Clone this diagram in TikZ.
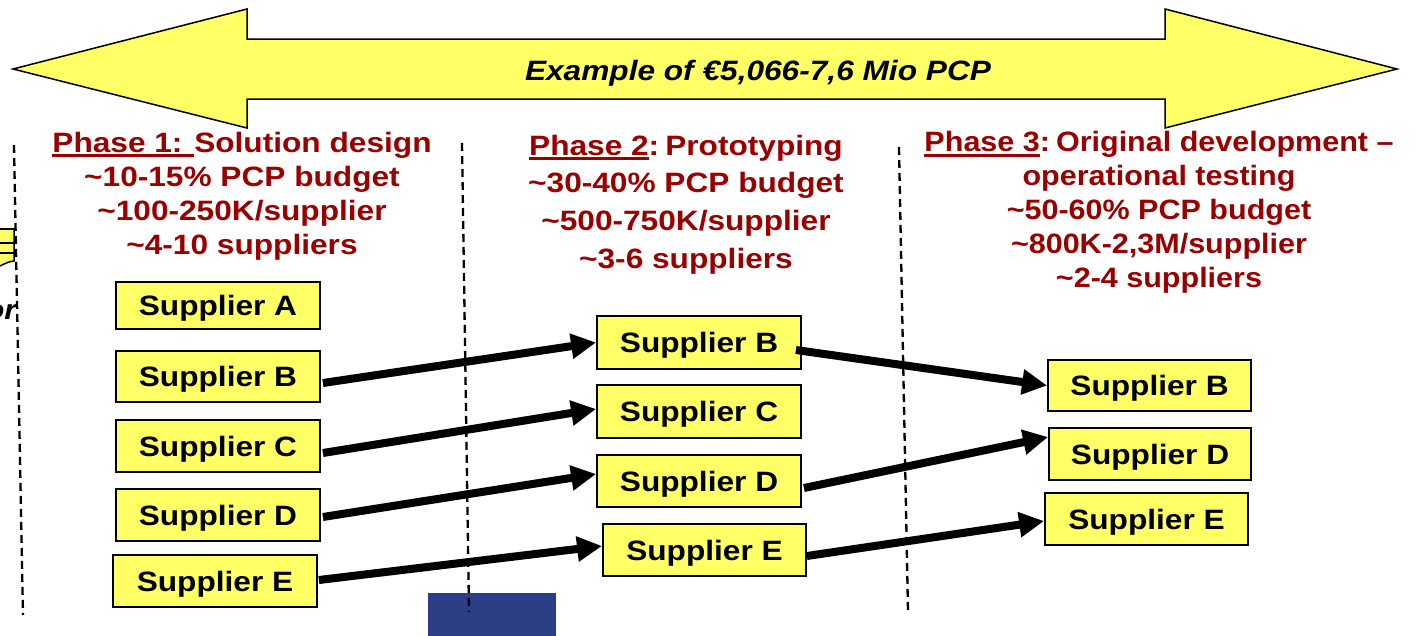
\documentclass[tikz,border=0pt]{standalone}
\usepackage{fontspec}
\usetikzlibrary{arrows.meta}
\newfontfamily\af[FakeStretch=1.13]{Liberation Sans}
\newfontfamily\afn[FakeStretch=1.09]{Liberation Sans}
\definecolor{ayellow}{HTML}{FFFF66}
\definecolor{dred}{HTML}{990000}
\definecolor{dblue}{HTML}{2C3F86}
\newcommand\myul[1]{\setbox0\hbox{#1}\rlap{\rule[-5pt]{\wd0}{3.2pt}}#1}
\tikzset{
  supbox/.style={draw=black, line width=1.8pt, fill=ayellow, minimum width=204pt,
    minimum height=52pt, inner sep=0pt, text depth=0pt, font=\af\fontsize{28}{32}\selectfont\bfseries},
  phasetxt/.style={align=center, inner sep=0pt, anchor=north, text=dred},
  flow/.style={line width=8pt, -{Triangle[length=25pt,width=24pt]}},
  divider/.style={line width=2.3pt, dash pattern=on 8pt off 5pt}
}
\begin{document}
\begin{tikzpicture}[x=1pt,y=-1pt]
\useasboundingbox (0,0) rectangle (1427,635);
% blue rectangle
\fill[dblue] (428,593) rectangle (556,640);
% left fragment
\path[fill=ayellow, draw=black, line width=1.5pt] (-2,229) -- (14,229) -- (14,261) .. controls (8,262) .. (-2,267) -- cycle;
\draw[line width=1.5pt] (-2,229) -- (16,229) (-2,243) -- (16,243) (-2,253) -- (16,253);
\node[anchor=base east, inner sep=0pt, font=\af\fontsize{28}{32}\selectfont\bfseries\itshape] (orx) at (17,319) {or};
% big double arrow
\path[fill=ayellow, draw=black, line width=1.5pt] (13,69) -- (247,9) -- (247,39) -- (1165,39) -- (1165,9) -- (1397,69) -- (1165,128) -- (1165,99) -- (247,99) -- (247,128) -- cycle;
\node[anchor=base, inner sep=0pt, font=\af\fontsize{28}{32}\selectfont\bfseries\itshape] (ex) at (758,80) {Example of €5,066-7,6 Mio PCP};
% dividers
\draw[divider] (14,145) -- (23,615);
\draw[divider] (462,143) -- (469,612);
\draw[divider] (899,147) -- (908,612);
% phase headings
\node[phasetxt, font=\af\fontsize{28}{34}\selectfont\bfseries] (ph1) at (242,131.6)
  {\myul{Phase 1: }Solution design\\ \textasciitilde10-15\% PCP budget\\ \textasciitilde100-250K/supplier\\ \textasciitilde4-10 suppliers};
\node[phasetxt, font=\af\fontsize{28}{37.7}\selectfont\bfseries] (ph2) at (686,134.6)
  {\myul{Phase 2}:\hspace{6pt}Prototyping\\ \textasciitilde30-40\% PCP budget\\ \textasciitilde500-750K/supplier\\ \textasciitilde3-6 suppliers};
\node[phasetxt, font=\afn\fontsize{28}{34}\selectfont\bfseries] (ph3) at (1159,131.3)
  {\myul{Phase 3}:\hspace{6pt}Original development –\\ operational testing\\ \textasciitilde50-60\% PCP budget\\ \textasciitilde800K-2,3M/supplier\\ \textasciitilde2-4 suppliers};
% phase 1 suppliers
\node[supbox, minimum height=47pt] (a1) at (218,305.5) {Supplier A};
\node[supbox, minimum height=51pt] (b1) at (218,376.5) {Supplier B};
\node[supbox] (c1) at (218,446) {Supplier C};
\node[supbox] (d1) at (218,515) {Supplier D};
\node[supbox] (e1) at (215,581) {Supplier E};
% phase 2 suppliers
\node[supbox, minimum height=53pt] (b2) at (699,342.5) {Supplier B};
\node[supbox, minimum height=53pt] (c2) at (699,411.5) {Supplier C};
\node[supbox] (d2) at (699,481) {Supplier D};
\node[supbox, minimum width=203pt] (e2) at (704.5,550) {Supplier E};
% phase 3 suppliers
\node[supbox, minimum width=203pt, minimum height=51pt] (b3) at (1149.5,385.5) {Supplier B};
\node[supbox, minimum width=202pt] (d3) at (1150,454) {Supplier D};
\node[supbox, minimum width=203pt] (e3) at (1146.5,519) {Supplier E};
% flows
\draw[flow] ([xshift=2pt,yshift=-6.5pt]b1.east) -- (b2.west);
\draw[flow] ([xshift=2pt,yshift=-7pt]c1.east) -- ([yshift=2.5pt]c2.west);
\draw[flow] ([xshift=2pt,yshift=-2pt]d1.east) -- ([yshift=7pt]d2.west);
\draw[flow] ([xshift=1pt,yshift=1pt]e1.east) -- ([yshift=4pt]e2.west);
\draw[flow] ([xshift=-6pt,yshift=-7.5pt]b2.east) -- (b3.west);
\draw[flow] ([xshift=2pt,yshift=-7pt]d2.east) -- ([yshift=17pt]d3.west);
\draw[flow] ([xshift=0pt,yshift=-6pt]e2.east) -- ([yshift=-2pt]e3.west);
\end{tikzpicture}
\end{document}
